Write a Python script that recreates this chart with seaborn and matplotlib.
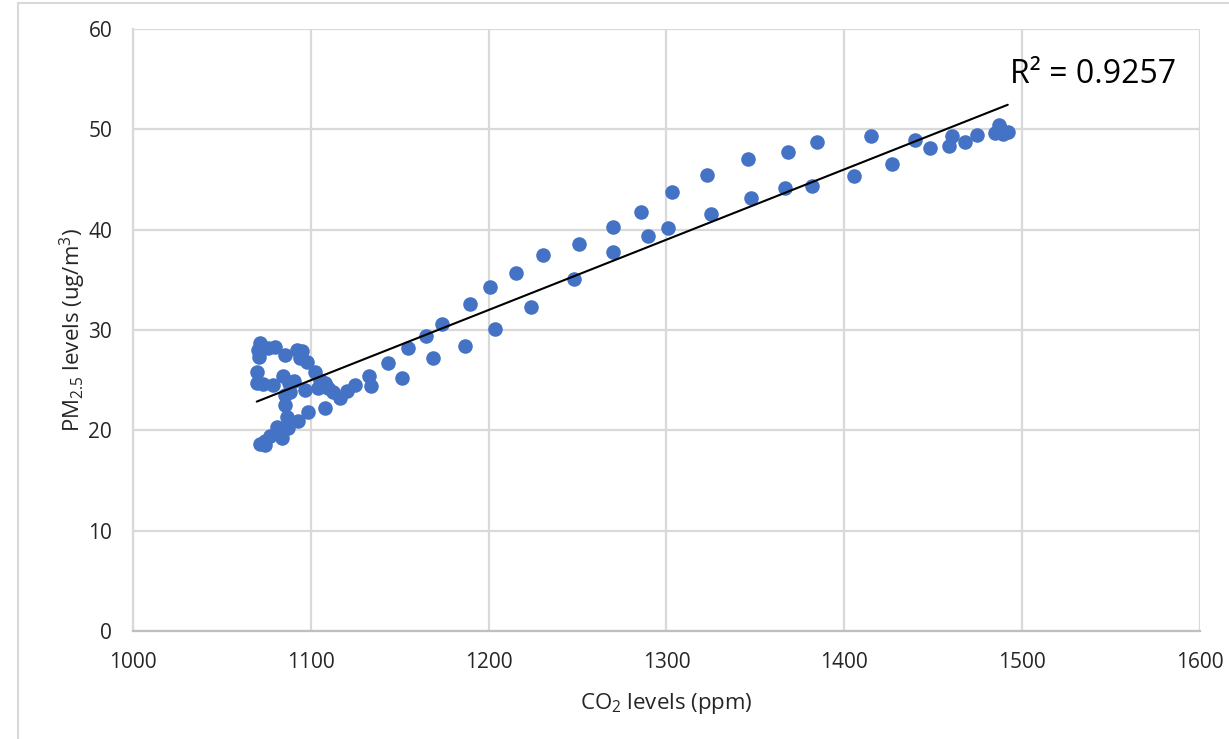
import matplotlib
matplotlib.use("Agg")
import matplotlib.pyplot as plt
from matplotlib.lines import Line2D
import numpy as np
import pandas as pd
import seaborn as sns

# CO2 (ppm) and PM2.5 (ug/m3) readings
co2_ppm = [
    1071.4, 1070.5, 1071.0, 1076.0, 1079.9, 1085.5, 1092.0, 1094.9, 1094.0, 1097.6,
    1069.6, 1069.6, 1073.3, 1079.0, 1084.5, 1087.9, 1090.5, 1096.7, 1102.4, 1105.2,
    1108.0, 1109.9, 1104.2, 1112.7, 1116.4, 1120.3, 1124.9, 1132.7, 1133.7,
    1085.5, 1088.3, 1085.5, 1108.0, 1098.6, 1086.4, 1093.0, 1087.4, 1080.8, 1083.6,
    1077.0, 1074.2, 1071.4, 1074.5,
    1143.6, 1151.5, 1154.7, 1165.0, 1168.9, 1174.0, 1186.6, 1189.5, 1201.0, 1203.6,
    1215.4, 1224.0, 1230.6, 1247.9, 1251.0, 1270.2, 1270.2, 1285.9, 1289.4, 1300.8,
    1303.3, 1323.0, 1325.0, 1346.0, 1347.8, 1368.2, 1366.5, 1384.5, 1382.0,
    1405.4, 1415.0, 1426.6, 1440.0, 1448.4, 1458.6, 1460.4, 1468.0, 1474.7, 1484.8,
    1486.7, 1487.6, 1489.1, 1491.9,
]
pm25 = [
    28.7, 28.0, 27.35, 28.2, 28.35, 27.5, 28.0, 27.9, 27.2, 26.8,
    25.85, 24.75, 24.6, 24.5, 25.4, 24.7, 24.9, 24.0, 25.85, 25.0,
    24.7, 24.2, 24.2, 23.85, 23.2, 23.9, 24.5, 25.4, 24.4,
    23.5, 23.8, 22.5, 22.2, 21.8, 21.3, 20.9, 20.2, 20.3, 19.2,
    19.4, 18.9, 18.6, 18.5,
    26.75, 25.25, 28.2, 29.4, 27.2, 30.6, 28.45, 32.6, 34.3, 30.1,
    35.7, 32.3, 37.5, 35.1, 38.6, 37.8, 40.3, 41.8, 39.4, 40.2,
    43.8, 45.4, 41.6, 47.0, 43.2, 47.7, 44.2, 48.75, 44.4,
    45.3, 49.3, 46.5, 48.95, 48.1, 48.3, 49.3, 48.7, 49.4, 49.6,
    50.4, 50.0, 49.55, 49.7,
]
x_ticks = [1000, 1100, 1200, 1300, 1400, 1500, 1600]
y_ticks = [0, 10, 20, 30, 40, 50, 60]
r2_label = "R² = 0.9257"

df = pd.DataFrame({"co2": co2_ppm, "pm": pm25})

sns.set_style("white")
plt.rcParams["font.family"] = ["Open Sans", "DejaVu Sans"]
plt.rcParams["mathtext.fontset"] = "custom"
plt.rcParams["mathtext.rm"] = "Open Sans"
plt.rcParams["mathtext.it"] = "Open Sans"

fig = plt.figure(figsize=(12.29, 7.39), dpi=100)
ax = fig.add_axes([0.1082, 0.1461, 0.8682, 0.8147])

grid_c = "#d9d9d9"
blue = "#4472C4"
text_c = "#262626"

sns.scatterplot(data=df, x="co2", y="pm", ax=ax, color=blue, s=110,
                linewidth=0, zorder=3)
sns.regplot(data=df, x="co2", y="pm", ax=ax, scatter=False, ci=None,
            line_kws={"color": "black", "lw": 1.5, "zorder": 4})

ax.set_xlim(1000, 1600)
ax.set_ylim(0, 60)
ax.set_xticks(x_ticks)
ax.set_yticks(y_ticks)
ax.set_xticklabels([str(v) for v in x_ticks])
ax.set_yticklabels([str(v) for v in y_ticks])
ax.tick_params(axis="both", length=0, labelsize=15, colors=text_c)
ax.tick_params(axis="y", pad=15)
ax.tick_params(axis="x", pad=15)

ax.grid(True, color=grid_c, lw=1.6)
ax.set_axisbelow(True)
for side in ["top", "right"]:
    ax.spines[side].set_visible(False)
ax.spines["left"].set_color(grid_c)
ax.spines["left"].set_linewidth(1.6)
ax.spines["bottom"].set_color("#bfbfbf")
ax.spines["bottom"].set_linewidth(1.6)

ax.set_xlabel("CO$_2$ levels (ppm)", fontsize=16, color=text_c, labelpad=13)
ax.set_ylabel("PM$_{2.5}$ levels (ug/m$^3$)", fontsize=16, color=text_c,
              labelpad=0)

ax.text(1493, 55.5, r2_label, fontsize=23, color="black", ha="left",
        va="center", zorder=5)

# light chart-area frame along the top and left
fig.add_artist(Line2D([18 / 1229, 1.0], [1 - 3 / 739] * 2, color="#d9d9d9",
                      lw=1.5, transform=fig.transFigure))
fig.add_artist(Line2D([18 / 1229] * 2, [0.0, 1 - 3 / 739], color="#d9d9d9",
                      lw=1.5, transform=fig.transFigure))

fig.savefig("out.png", dpi=100)
